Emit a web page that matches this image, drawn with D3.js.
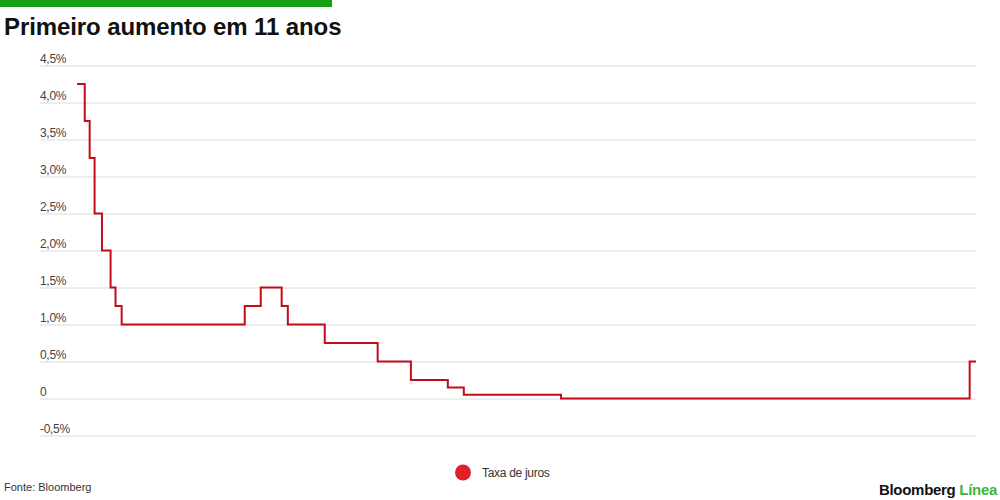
<!DOCTYPE html>
<html lang="pt">
<head>
<meta charset="UTF-8">
<title>Primeiro aumento em 11 anos</title>
<style>
  body { margin: 0; background: #fff; }
  svg { display: block; font-family: "Liberation Sans", Arial, Helvetica, sans-serif; }
</style>
<script src="https://cdn.jsdelivr.net/npm/d3@7"></script>
</head>
<body>
<svg width="1000" height="500"></svg>
<script>
// taxa de juros
var dates = ["2008-09-01", "2008-10-15", "2008-11-12", "2008-12-10", "2009-01-21",
             "2009-03-11", "2009-04-08", "2009-05-13", "2011-04-13", "2011-07-13",
             "2011-11-09", "2011-12-14", "2012-07-11", "2013-05-08", "2013-11-13",
             "2014-06-11", "2014-09-10", "2016-03-16", "2022-07-27", "2022-09-01"];
var rates = [4.25, 3.75, 3.25, 2.5, 2.0,
             1.5, 1.25, 1.0, 1.25, 1.5,
             1.25, 1.0, 0.75, 0.5, 0.25,
             0.15, 0.05, 0, 0.5, 0.5];
var yTicks = [-0.5, 0, 0.5, 1, 1.5, 2, 2.5, 3, 3.5, 4, 4.5];

var parse = d3.timeParse("%Y-%m-%d");
var data = dates.map(function(d, i) { return { date: parse(d), value: rates[i] }; });

var svg = d3.select("svg");

var x = d3.scaleTime()
    .domain([parse("2008-09-01"), parse("2022-09-01")])
    .range([77, 976]);

var y = d3.scaleLinear()
    .domain([-0.5, 4.5])
    .range([435.5, 65.5]);

// barra verde e título
svg.append("rect")
    .attr("x", 0).attr("y", 0)
    .attr("width", 332).attr("height", 7)
    .attr("fill", "#14a014");

svg.append("text")
    .attr("x", 4).attr("y", 35)
    .attr("font-size", 24)
    .attr("font-weight", "bold")
    .attr("letter-spacing", -0.1)
    .attr("fill", "#111")
    .text("Primeiro aumento em 11 anos");

// eixo y com linhas de grade
var fmt = function(d) {
  if (d === 0) return "0";
  return (d < 0 ? "-" : "") + Math.abs(d).toFixed(1).replace(".", ",") + "%";
};

var yAxis = svg.append("g")
    .attr("transform", "translate(40,0)")
    .call(d3.axisRight(y).tickValues(yTicks).tickSize(936).tickFormat(fmt));

yAxis.select(".domain").remove();
yAxis.selectAll(".tick line")
    .attr("stroke", "#dcdcdc")
    .attr("stroke-width", 1);
yAxis.selectAll(".tick text")
    .attr("x", 0)
    .attr("dy", -3)
    .attr("text-anchor", "start")
    .attr("font-size", 12)
    .attr("letter-spacing", -0.3)
    .attr("fill", "#444");

// linha da taxa
var line = d3.line()
    .x(function(d) { return x(d.date); })
    .y(function(d) { return y(d.value); })
    .curve(d3.curveStepAfter);

svg.append("path")
    .datum(data)
    .attr("d", line)
    .attr("fill", "none")
    .attr("stroke", "#c20c1a")
    .attr("stroke-width", 2);

// legenda
svg.append("circle")
    .attr("cx", 463).attr("cy", 472.5)
    .attr("r", 8)
    .attr("fill", "#e1202a");

svg.append("text")
    .attr("x", 482).attr("y", 477)
    .attr("font-size", 12)
    .attr("letter-spacing", -0.3)
    .attr("fill", "#333")
    .text("Taxa de juros");

// fonte e logo
svg.append("text")
    .attr("x", 4).attr("y", 491)
    .attr("font-size", 11)
    .attr("fill", "#333")
    .text("Fonte: Bloomberg");

var logo = svg.append("text")
    .attr("x", 997).attr("y", 495)
    .attr("text-anchor", "end")
    .attr("font-size", 15)
    .attr("font-weight", "bold")
    .attr("letter-spacing", -0.3);
logo.append("tspan").attr("fill", "#111").text("Bloomberg ");
logo.append("tspan").attr("fill", "#3db53d").text("Línea");
</script>
</body>
</html>
